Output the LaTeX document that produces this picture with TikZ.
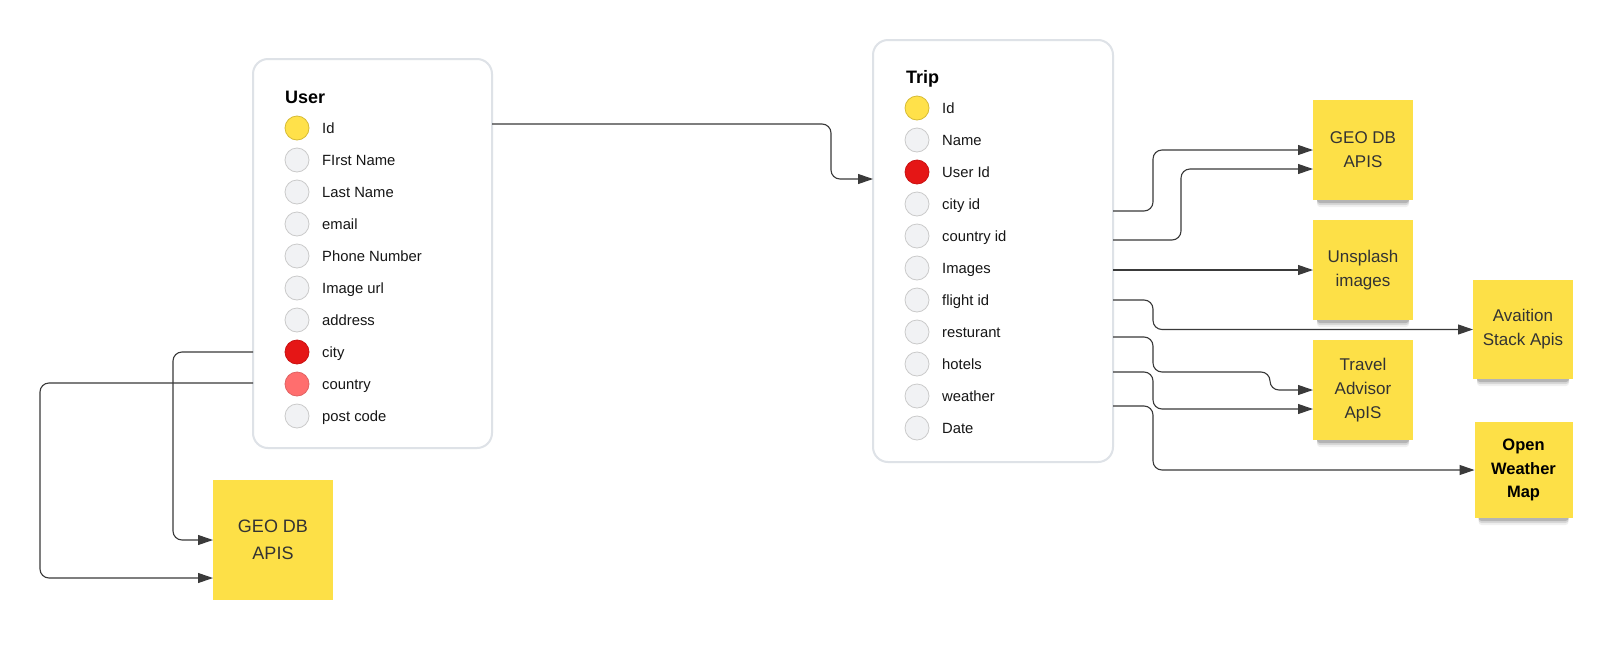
\documentclass[tikz,border=0pt]{standalone}
\usepackage{fontspec}
\setmainfont{Liberation Sans}
\usetikzlibrary{arrows.meta,calc}
\definecolor{boxline}{HTML}{DEE2E7}
\definecolor{connline}{HTML}{3A3A3A}
\definecolor{notefill}{HTML}{FDE047}
\definecolor{notetext}{HTML}{333333}
\definecolor{rowtxt}{HTML}{161616}
\definecolor{yelfill}{HTML}{FFE14A}
\definecolor{yeldraw}{HTML}{D6BB35}
\definecolor{redfill}{HTML}{E51616}
\definecolor{reddraw}{HTML}{C91111}
\definecolor{pinkfill}{HTML}{FF6E6E}
\definecolor{pinkdraw}{HTML}{E06262}
\definecolor{grayfill}{HTML}{F1F2F4}
\definecolor{graydraw}{HTML}{CACACA}
\pgfdeclarelayer{backlayer}
\pgfdeclarelayer{shadowlayer}
\pgfsetlayers{backlayer,shadowlayer,main}
\newcommand\mynoteshadow[1]{%
  \begin{pgfonlayer}{shadowlayer}
    \foreach \d/\o in {3/0.16,5/0.10,7/0.06}{%
      \fill[black,opacity=\o,rounded corners=3pt] ($(#1.south west)+(4,-10)$) rectangle ($(#1.south east)+(-4,\d)$);}
  \end{pgfonlayer}}
\begin{document}
\begin{tikzpicture}[x=1pt,y=-1pt,
  entity/.style={draw=boxline,line width=2pt,rounded corners=15pt,fill=white,inner sep=0pt,outer sep=0pt,anchor=north west},
  titletext/.style={font=\fontsize{18}{22}\selectfont\bfseries,inner sep=0pt,anchor=base west,text=black},
  rowdot/.style={circle,minimum size=24pt,inner sep=0pt,line width=0.8pt},
  rowtext/.style={font=\fontsize{14.8}{18}\selectfont,inner sep=0pt,anchor=west,text height=10.6pt,text depth=0pt,text=rowtxt},
  note/.style={fill=notefill,inner sep=0pt,outer sep=0pt,align=center,text=notetext,font=\fontsize{17}{24}\selectfont},
  conn/.style={draw=connline,line width=1.1pt,rounded corners=9pt,-{Triangle[length=15pt,width=10pt]}},
  plainconn/.style={draw=connline,line width=1.1pt,rounded corners=9pt}]
\useasboundingbox (0,0) rectangle (1623,654);
\begin{pgfonlayer}{backlayer}
  \fill[white] (0,0) rectangle (1623,654);
\end{pgfonlayer}

% entity boxes
\node[entity,minimum width=239pt,minimum height=389pt] (user) at (253,59) {};
\node[entity,minimum width=240pt,minimum height=422pt] (trip) at (873,40) {};
\node[titletext] (usertitle) at (285,103.5) {User};
\node[titletext] (triptitle) at (906,83.5) {Trip};

\foreach [count=\i] \t/\f/\d in {Id/yelfill/yeldraw,FIrst Name/grayfill/graydraw,Last Name/grayfill/graydraw,email/grayfill/graydraw,Phone Number/grayfill/graydraw,Image url/grayfill/graydraw,address/grayfill/graydraw,city/redfill/reddraw,country/pinkfill/pinkdraw,post code/grayfill/graydraw}{
  \node[rowdot,fill=\f,draw=\d] (u\i) at (297,{96+32*\i}) {};
  \node[rowtext] (ut\i) at ($(u\i.center)+(25,0)$) {\t};
}
\foreach [count=\i] \t/\f/\d in {Id/yelfill/yeldraw,Name/grayfill/graydraw,User Id/redfill/reddraw,city id/grayfill/graydraw,country id/grayfill/graydraw,Images/grayfill/graydraw,flight id/grayfill/graydraw,resturant/grayfill/graydraw,hotels/grayfill/graydraw,weather/grayfill/graydraw,Date/grayfill/graydraw}{
  \node[rowdot,fill=\f,draw=\d] (t\i) at (917,{76+32*\i}) {};
  \node[rowtext] (tt\i) at ($(t\i.center)+(25,0)$) {\t};
}

% sticky notes
\node[note,minimum width=100pt,minimum height=100pt] (geoR) at (1363,150) {GEO DB\\APIS};
\node[note,minimum width=100pt,minimum height=100pt] (unsplash) at (1363,270) {Unsplash\\images};
\node[note,minimum width=100pt,minimum height=100pt] (travel) at (1363,390) {Travel\\Advisor\\ApIS};
\node[note,minimum width=100pt,minimum height=99pt] (aviation) at (1523,329.5) {Avaition\\Stack Apis};
\node[note,minimum width=98pt,minimum height=96pt,text=black,font=\fontsize{16.5}{23.5}\selectfont\bfseries] (weather) at (1523.5,470) {Open\\Weather\\Map};
\node[note,minimum width=120pt,minimum height=120pt,font=\fontsize{18}{27}\selectfont] (geoL) at (273,540) {GEO DB\\APIS};
\mynoteshadow{geoR}
\mynoteshadow{unsplash}
\mynoteshadow{travel}
\mynoteshadow{aviation}
\mynoteshadow{weather}

% connectors
\draw[conn] ($(u1 -| user.east)+(0,-4)$) -- ++(339,0) |- ($(t3 -| trip.west)+(0,7)$);
\draw[conn] (u8 -| user.west) -- ++(-80,0) |- (geoL.west);
\draw[conn] ($(u9 -| user.west)+(0,-1)$) -- ++(-213,0) |- ($(geoL.west)+(0,38)$);

\draw[conn] ($(t4 -| trip.east)+(0,7)$) -- ++(40,0) |- (geoR.west);
\draw[conn] ($(t5 -| trip.east)+(0,4)$) -- ++(68,0) |- ($(geoR.west)+(0,19)$);
\draw[conn] (unsplash.west -| trip.east) -- (unsplash.west);
\draw[conn] (t7 -| trip.east) -- ++(40,0) |- (aviation.west);
\draw[conn] ($(t8 -| trip.east)+(0,5)$) -- ++(40,0) -- ++(0,35) -- ++(117,0) |- (travel.west);
\draw[conn] ($(t9 -| trip.east)+(0,8)$) -- ++(40,0) |- ($(travel.west)+(0,19)$);
\draw[conn] ($(t10 -| trip.east)+(0,10)$) -- ++(40,0) |- (weather.west);
\end{tikzpicture}
\end{document}
